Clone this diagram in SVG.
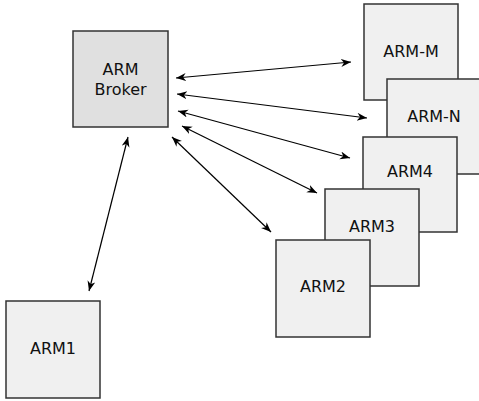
<svg xmlns="http://www.w3.org/2000/svg" width="479" height="401" viewBox="0 0 479 401">
<style>
.box{fill:#f0f0f0;stroke:#333;stroke-width:1.5}
.broker{fill:#e0e0e0;stroke:#333;stroke-width:1.5}
text{font-family:"DejaVu Sans",sans-serif;font-size:16px;fill:#111;text-anchor:middle}
.c line{stroke:#000;stroke-width:1.2;marker-start:url(#a);marker-end:url(#a)}
</style>
<defs>
<marker id="a" markerUnits="userSpaceOnUse" markerWidth="12" markerHeight="10" refX="10" refY="4" orient="auto-start-reverse" viewBox="0 0 12 10">
<path d="M0,0 L10,4 L0,8 L3,4 z" fill="#000"/>
</marker>
</defs>
<rect width="479" height="401" fill="#fff"/>
<g id="broker"><rect class="broker" x="73" y="31" width="95" height="96"/><text x="120.5" y="75">ARM</text><text x="120.5" y="95">Broker</text></g>
<g id="armm"><rect class="box" x="364" y="4" width="94" height="96"/><text x="411" y="57">ARM-M</text></g>
<g id="armn"><rect class="box" x="387" y="79" width="94" height="95"/><text x="434" y="122">ARM-N</text></g>
<g id="arm4"><rect class="box" x="363" y="137" width="94" height="95"/><text x="410" y="177">ARM4</text></g>
<g id="arm3"><rect class="box" x="325" y="189" width="94" height="97"/><text x="372" y="232">ARM3</text></g>
<g id="arm2"><rect class="box" x="276" y="240" width="94" height="97"/><text x="323" y="292">ARM2</text></g>
<g id="arm1"><rect class="box" x="6" y="301" width="94" height="97"/><text x="53" y="354">ARM1</text></g>
<g id="connectors" class="c">
<line x1="176" y1="78" x2="351" y2="62"/>
<line x1="177" y1="94" x2="367" y2="118"/>
<line x1="178" y1="111" x2="350" y2="158"/>
<line x1="182" y1="126" x2="317" y2="193"/>
<line x1="172" y1="137" x2="271" y2="232"/>
<line x1="128" y1="137" x2="89" y2="291"/>
</g>
</svg>
